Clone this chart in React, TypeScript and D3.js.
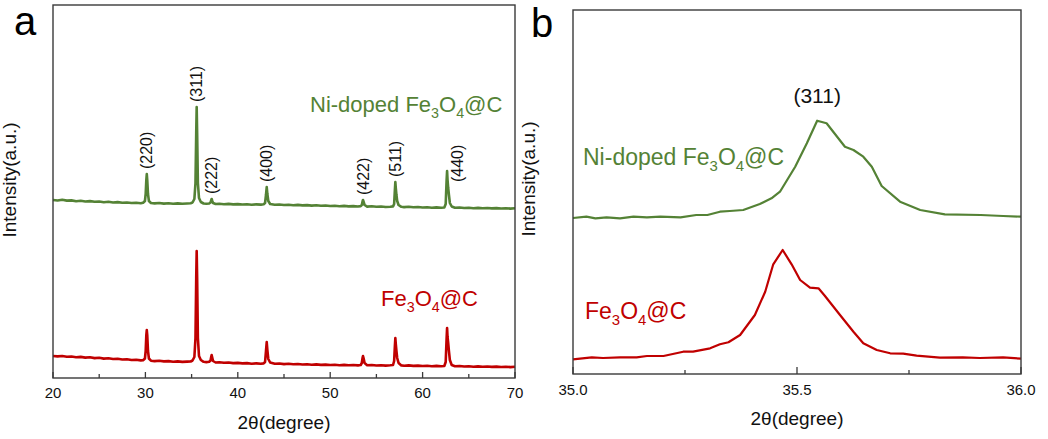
import React from "react";
import * as d3 from "d3";

// ---------- Data ----------
// Panel a: 2θ (degree) vs intensity (a.u.)
const aXTicks = [20, 30, 40, 50, 60, 70];
const aXMinor = [25, 35, 45, 55, 65];

const aNiDoped: [number, number][] = [
  [20.0,178],[20.5,177.5],[21,178.2],[21.5,177.4],[22,177.6],[22.5,176.8],[23,177.2],[23.5,176.5],[24,176.9],[24.5,176.2],[25,176.5],[25.5,175.8],[26,176.2],[26.5,175.5],[27,175.9],[27.5,175.2],[28,175.5],[28.5,175],[29,175.3],[29.5,174.8],[29.75,175.2],
  [29.95,177],[30.03,184],[30.1,198],[30.15,204],[30.2,198],[30.28,184],[30.38,177],[30.6,175],
  [31,174.6],[31.5,175],[32,174.4],[32.5,174.8],[33,174.3],[33.5,174.6],[34,174.2],[34.5,174.5],[34.9,174.8],
  [35.1,175.5],[35.3,179],[35.42,195],[35.5,245],[35.55,271],[35.6,245],[35.68,195],[35.8,180],[36.0,176],[36.3,174.5],[36.6,174.2],[36.9,174.5],
  [37.05,175.5],[37.12,177.5],[37.17,179],[37.22,177.5],[37.32,175],[37.6,174],[38,174.3],[38.5,173.8],[39,174.1],[39.5,173.6],[40,173.9],[40.5,173.5],[41,173.8],[41.5,173.3],[42,173.6],[42.5,173.4],[42.8,173.8],
  [42.95,175],[43.05,183],[43.13,191],[43.2,184],[43.3,177],[43.5,174],[44,173.2],[44.5,173.5],[45,173],[45.5,173.3],[46,172.8],[46.5,173.1],[47,172.6],[47.5,172.9],[48,172.4],[48.5,172.7],[49,172.2],[49.5,172.5],[50,172],[50.5,172.3],[51,171.8],[51.5,172.1],[52,171.6],[52.5,171.9],[53,171.5],[53.3,171.9],
  [53.42,173],[53.5,176.5],[53.55,178],[53.62,176],[53.72,173],[54,171.4],[54.5,171.7],[55,171.2],[55.5,171.5],[56,171],[56.5,171.3],[56.8,171.6],
  [56.92,174],[57.0,188],[57.05,196],[57.1,190],[57.17,183],[57.25,177],[57.4,173],[57.7,171.2],[58,170.9],[58.5,171.2],[59,170.7],[59.5,171],[60,170.5],[60.5,170.8],[61,170.3],[61.5,170.6],[62,170.2],[62.35,170.5],
  [62.5,174],[62.6,198],[62.65,207],[62.7,198],[62.77,190],[62.85,183],[62.95,175],[63.15,171.5],[63.5,170.2],[64,170.5],[64.5,170],[65,170.3],[65.5,169.8],[66,170.1],[66.5,169.7],[67,170],[67.5,169.6],[68,169.9],[68.5,169.5],[69,169.8],[69.5,169.4],[70,169.7],
];

const aPure: [number, number][] = [
  [20,22],[20.5,21.6],[21,22],[21.5,21.3],[22,21.5],[22.5,20.8],[23,21.1],[23.5,20.4],[24,20.7],[24.5,19.9],[25,20.2],[25.5,19.4],[26,19.7],[26.5,19],[27,19.2],[27.5,18.5],[28,18.8],[28.5,18],[29,18.3],[29.5,17.6],[29.75,17.8],
  [29.95,19.5],[30.03,27],[30.1,43],[30.15,48],[30.2,43],[30.28,27],[30.38,19.5],[30.6,17.3],[31,16.9],[31.5,17.2],[32,16.6],[32.5,16.9],[33,16.3],[33.5,16.6],[34,16.1],[34.5,16.4],[34.9,16.5],
  [35.1,17.5],[35.3,21],[35.42,40],[35.5,100],[35.55,127],[35.6,100],[35.68,40],[35.8,22],[36,18],[36.3,16.2],[36.6,15.9],[36.9,16.2],
  [37.05,17.5],[37.12,21],[37.17,23],[37.22,21],[37.32,17],[37.6,15.5],[38,15.8],[38.5,15.2],[39,15.5],[39.5,14.9],[40,15.1],[40.5,14.6],[41,14.9],[41.5,14.3],[42,14.6],[42.5,14.2],[42.8,14.6],
  [42.95,16],[43.05,27],[43.13,36],[43.2,28],[43.3,19],[43.5,15.5],[44,14.2],[44.5,14.5],[45,13.9],[45.5,14.2],[46,13.7],[46.5,14],[47,13.5],[47.5,13.8],[48,13.3],[48.5,13.6],[49,13.1],[49.5,13.4],[50,13],[50.5,13.3],[51,12.8],[51.5,13.1],[52,12.7],[52.5,13],[53,12.6],[53.3,13],
  [53.42,15],[53.5,20],[53.55,22],[53.62,19.5],[53.72,15],[54,12.8],[54.5,13],[55,12.5],[55.5,12.8],[56,12.4],[56.5,12.7],[56.8,13],
  [56.92,17],[57.0,32],[57.05,40],[57.1,34],[57.17,27],[57.25,20],[57.4,15],[57.7,12.6],[58,12.3],[58.5,12.6],[59,12.1],[59.5,12.4],[60,12],[60.5,12.3],[61,11.8],[61.5,12.1],[62,11.7],[62.35,12],
  [62.5,16],[62.6,40],[62.65,50],[62.7,41],[62.77,35],[62.85,27],[62.95,18],[63.15,13],[63.5,11.8],[64,12],[64.5,11.5],[65,11.8],[65.5,11.3],[66,11.6],[66.5,11.2],[67,11.5],[67.5,11.1],[68,11.4],[68.5,11],[69,11.3],[69.5,10.9],[70,11.3],
];

// Miller-index labels: name, peak 2θ, peak intensity on the Ni-doped curve
const peakNames = ["(220)", "(311)", "(222)", "(400)", "(422)", "(511)", "(440)"];
const peakPos = [30.15, 35.55, 37.17, 43.13, 53.55, 57.05, 62.65];
const peakTop = [204, 271, 179, 191, 178, 196, 207];

// Panel b: zoom of the (311) peak
const bXTicks = [35.0, 35.5, 36.0];
const bXMinor = [35.25, 35.75];

const bNiDoped: [number, number][] = [
  [35.0,156],[35.03,157.3],[35.05,155.7],[35.075,156.7],[35.105,155.7],[35.135,157.3],[35.165,156.7],[35.195,157.3],[35.24,156.7],[35.275,159],[35.30,159],[35.328,162.3],[35.35,163],[35.38,164],[35.417,170],[35.443,175.7],[35.462,182.3],[35.496,207.3],[35.522,230.7],[35.545,253.3],[35.566,250.7],[35.607,227.3],[35.626,224],[35.648,217.3],[35.667,207.3],[35.689,188],[35.73,172.3],[35.775,164],[35.83,159.7],[35.91,159],[35.96,158],[36.0,157.3],
];

const bPure: [number, number][] = [
  [35.0,14.7],[35.042,16.7],[35.067,16],[35.105,16.7],[35.142,16.7],[35.165,18],[35.202,18],[35.246,22.3],[35.268,22.3],[35.306,25.7],[35.328,29.7],[35.347,31.7],[35.373,39],[35.406,59],[35.429,82.3],[35.447,109.7],[35.468,124],[35.488,109.7],[35.507,94],[35.529,86.3],[35.548,85.7],[35.562,78.3],[35.596,59],[35.626,42.3],[35.648,30.7],[35.678,24],[35.708,20.7],[35.737,20.3],[35.767,18.3],[35.819,16.3],[35.87,16.7],[35.908,16],[35.96,16.7],[36.0,15.3],
];

const GREEN = "#548235";
const RED = "#c00000";
const FONT = "'Liberation Sans', Arial, Helvetica, sans-serif";

function Formula({ x, y, size, color, prefix }: { x: number; y: number; size: number; color: string; prefix: string }) {
  const sub = size * 0.65;
  const dy = size * 0.28;
  return (
    <text x={x} y={y} fontSize={size} fill={color} fontFamily={FONT}>
      {prefix}Fe
      <tspan fontSize={sub} dy={dy}>3</tspan>
      <tspan dy={-dy}>O</tspan>
      <tspan fontSize={sub} dy={dy}>4</tspan>
      <tspan dy={-dy}>@C</tspan>
    </text>
  );
}

export default function App() {
  // panel a
  const ax = d3.scaleLinear().domain([20, 70]).range([53, 515]);
  const ay = d3.scaleLinear().domain([0, 373]).range([378, 5]);
  const aLine = d3.line<[number, number]>().x((d) => ax(d[0])).y((d) => ay(d[1]));

  // panel b
  const bx = d3.scaleLinear().domain([35, 36]).range([573, 1021]);
  const by = d3.scaleLinear().domain([0, 364]).range([374, 10]);
  const bLine = d3.line<[number, number]>().x((d) => bx(d[0])).y((d) => by(d[1]));

  const frame = "#3a3a3a";

  return (
    <svg width={1048} height={439} style={{ position: "absolute", left: 0, top: 0, background: "#fff" }} fontFamily={FONT}>
      <rect x={0} y={0} width={1048} height={439} fill="#fff" />

      {/* ---------- Panel a ---------- */}
      <text x={14} y={35} fontSize={40} fill="#000">a</text>
      <path d={aLine(aPure) || ""} fill="none" stroke={RED} strokeWidth={2.6} strokeLinejoin="round" />
      <path d={aLine(aNiDoped) || ""} fill="none" stroke={GREEN} strokeWidth={2.6} strokeLinejoin="round" />
      <rect x={ax(20)} y={ay(373)} width={ax(70) - ax(20)} height={ay(0) - ay(373)} fill="none" stroke={frame} strokeWidth={1.4} />
      {aXTicks.map((t) => (
        <g key={"at" + t}>
          <line x1={ax(t)} x2={ax(t)} y1={ay(0)} y2={ay(0) - 6} stroke={frame} strokeWidth={1.3} />
          <text x={ax(t)} y={398} fontSize={15} textAnchor="middle" fill="#111">{t}</text>
        </g>
      ))}
      {aXMinor.map((t) => (
        <line key={"am" + t} x1={ax(t)} x2={ax(t)} y1={ay(0)} y2={ay(0) - 4} stroke={frame} strokeWidth={1.3} />
      ))}
      <text x={(ax(20) + ax(70)) / 2} y={429} fontSize={19} textAnchor="middle" fill="#111">2θ(degree)</text>
      <text transform={`translate(16,180) rotate(-90)`} fontSize={19} textAnchor="middle" fill="#111">Intensity(a.u.)</text>

      {peakNames.map((n, i) => {
        const isLast = n === "(440)";
        const cx = ax(peakPos[i]) + (isLast ? 10 : 0);
        const ys = isLast ? ay(peakTop[i]) + 11 : ay(peakTop[i]) - 5;
        return (
          <text key={n} transform={`translate(${cx},${ys}) rotate(-90)`} dy="0.35em" fontSize={16} fill="#111">{n}</text>
        );
      })}

      <Formula x={310} y={112} size={22} color={GREEN} prefix="Ni-doped " />
      <Formula x={381} y={306} size={22} color={RED} prefix="" />

      {/* ---------- Panel b ---------- */}
      <text x={531} y={37} fontSize={40} fill="#000">b</text>
      <path d={bLine(bPure) || ""} fill="none" stroke={RED} strokeWidth={2.2} strokeLinejoin="round" />
      <path d={bLine(bNiDoped) || ""} fill="none" stroke={GREEN} strokeWidth={2.2} strokeLinejoin="round" />
      <rect x={bx(35)} y={by(364)} width={bx(36) - bx(35)} height={by(0) - by(364)} fill="none" stroke={frame} strokeWidth={1.4} />
      {bXTicks.map((t) => (
        <g key={"bt" + t}>
          <line x1={bx(t)} x2={bx(t)} y1={by(0)} y2={by(0) - 7} stroke={frame} strokeWidth={1.3} />
          <text x={bx(t)} y={395} fontSize={15} textAnchor="middle" fill="#111">{t.toFixed(1)}</text>
        </g>
      ))}
      {bXMinor.map((t) => (
        <line key={"bm" + t} x1={bx(t)} x2={bx(t)} y1={by(0)} y2={by(0) - 4} stroke={frame} strokeWidth={1.3} />
      ))}
      <text x={(bx(35) + bx(36)) / 2} y={425} fontSize={19} textAnchor="middle" fill="#111">2θ(degree)</text>
      <text transform={`translate(535,179) rotate(-90)`} fontSize={19} textAnchor="middle" fill="#111">Intensity(a.u.)</text>
      <text x={bx(35.545)} y={103} fontSize={21} textAnchor="middle" fill="#111">(311)</text>

      <Formula x={583} y={165} size={23} color={GREEN} prefix="Ni-doped " />
      <Formula x={585} y={319} size={23} color={RED} prefix="" />
    </svg>
  );
}
